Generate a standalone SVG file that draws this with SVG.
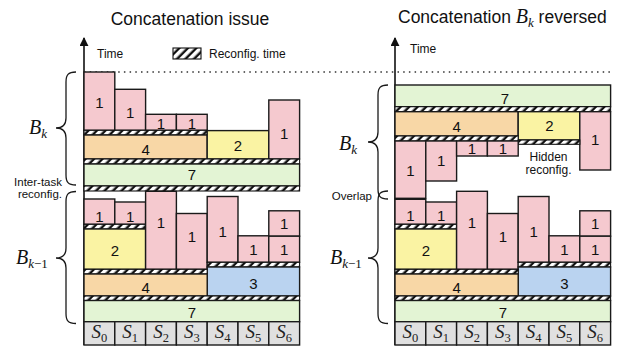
<svg xmlns="http://www.w3.org/2000/svg" width="626" height="348" viewBox="0 0 626 348">
  <defs>
    <!-- black bar with slanted white dashes: reconfiguration time -->
    <pattern id="hatch" patternUnits="userSpaceOnUse" width="6" height="6" patternTransform="rotate(45)">
      <rect width="6" height="6" fill="#111"/>
      <rect width="3.6" height="6" fill="#fff"/>
    </pattern>
    <marker id="arrow" viewBox="0 0 10 10" refX="9" refY="5" markerWidth="9" markerHeight="9" markerUnits="userSpaceOnUse" orient="auto">
      <path d="M0,0 L10,5 L0,10 z" fill="#111"/>
    </marker>
    <style>
      .t { stroke: #1a1a1a; stroke-width: 1.4; }
      .p { fill: #f5c9cf; }
      .o { fill: #f8d7a6; }
      .y { fill: #faf3a3; }
      .g { fill: #e3f4d4; }
      .b { fill: #bad3f0; }
      .s { fill: #e0e0e0; }
      .h { fill: url(#hatch); stroke: #111; stroke-width: 1.1; }
      .n { font-family: "Liberation Sans", Arial, sans-serif; font-size: 15px; fill: #111; text-anchor: middle; }
      .lab { font-family: "Liberation Sans", Arial, sans-serif; font-size: 12px; fill: #111; }
      .small { font-size: 11.5px; }
      .title { font-family: "Liberation Sans", Arial, sans-serif; font-size: 17.5px; fill: #111; }
      .math { font-family: "Liberation Serif", "Times New Roman", serif; fill: #111; }
      .it { font-style: italic; }
      .sl { font-family: "Liberation Serif", "Times New Roman", serif; font-size: 19px; fill: #222; text-anchor: middle; font-style: italic; }
      .brace { fill: none; stroke: #1a1a1a; stroke-width: 1.3; }
      .axis { stroke: #111; stroke-width: 1.6; fill: none; }
    </style>
  </defs>

  <rect width="626" height="348" fill="#fff"/>

  <!-- titles -->
  <text class="title" x="190" y="25" text-anchor="middle">Concatenation issue</text>
  <text class="title" x="398" y="23">Concatenation <tspan class="math it" font-size="20">B</tspan><tspan class="math it" font-size="13" dy="4">k</tspan><tspan dy="-4"> reversed</tspan></text>

  <!-- legend -->
  <g id="legend">
    <rect class="h" x="173" y="48" width="28" height="11"/>
    <text class="lab" x="209" y="57.5" font-size="13.5">Reconfig. time</text>
  </g>

  <!-- time axes and the reference level -->
  <g id="axes">
    <line class="axis" x1="84" y1="345" x2="84" y2="38" marker-end="url(#arrow)"/>
    <text class="lab" x="97" y="58" font-size="13.5">Time</text>
    <line class="axis" x1="395" y1="345" x2="395" y2="38" marker-end="url(#arrow)"/>
    <text class="lab" x="410" y="53" font-size="13.5">Time</text>
    <line x1="84" y1="72" x2="612" y2="72" stroke="#333" stroke-width="1.3" stroke-dasharray="1.5 4.2"/>
  </g>

  <!-- ================= left panel ================= -->
  <g id="left-bk">
    <g id="L-bk-t1a"><rect class="t p" x="84" y="72" width="30.8" height="58.3"/><text class="n" x="99.4" y="108.4">1</text></g>
    <g id="L-bk-t1b"><rect class="t p" x="114.8" y="89.3" width="30.8" height="41"/><text class="n" x="130.2" y="118.1">1</text></g>
    <g id="L-bk-t1c"><rect class="t p" x="145.6" y="114.3" width="30.8" height="16"/><text class="n" x="161" y="129.4">1</text></g>
    <g id="L-bk-t1d"><rect class="t p" x="176.4" y="114.3" width="30.8" height="16"/><text class="n" x="191.8" y="129.4">1</text></g>
    <rect class="h" x="84" y="130.3" width="123.2" height="4.7"/>
    <g id="L-bk-t4"><rect class="t o" x="84" y="135" width="123.2" height="24"/><text class="n" x="145.6" y="155.4">4</text></g>
    <g id="L-bk-t2"><rect class="t y" x="207.2" y="130.6" width="61.6" height="28.4"/><text class="n" x="238" y="151.1">2</text></g>
    <g id="L-bk-t1e"><rect class="t p" x="268.8" y="100" width="30.8" height="59"/><text class="n" x="284.2" y="139.4">1</text></g>
    <rect class="h" x="84" y="159" width="215.6" height="5"/>
    <g id="L-bk-t7"><rect class="t g" x="84" y="164" width="215.6" height="22"/><text class="n" x="191.8" y="180.4">7</text></g>
  </g>

  <!-- reconfiguration between the two batches -->
  <rect id="L-inter" class="h" x="84" y="186" width="215.6" height="5"/>

  <g id="left-bk1">
    <g id="L-p-t1a"><rect class="t p" x="84" y="199" width="30.8" height="25.3"/><text class="n" x="99.4" y="222.1">1</text></g>
    <g id="L-p-t1b"><rect class="t p" x="114.8" y="202" width="30.8" height="22.3"/><text class="n" x="130.2" y="222.1">1</text></g>
    <rect class="h" x="84" y="224.3" width="61.6" height="4.7"/>
    <g id="L-p-t2"><rect class="t y" x="84" y="229" width="61.6" height="40.3"/><text class="n" x="114.8" y="256.4">2</text></g>
    <g id="L-p-t1c"><rect class="t p" x="145.6" y="191.3" width="30.8" height="78"/><text class="n" x="161" y="228.4">1</text></g>
    <g id="L-p-t1d"><rect class="t p" x="176.4" y="213.5" width="30.8" height="55.8"/><text class="n" x="191.8" y="242.1">1</text></g>
    <g id="L-p-t1e"><rect class="t p" x="207.2" y="196.5" width="30.8" height="65.8"/><text class="n" x="222.6" y="237.1">1</text></g>
    <g id="L-p-t1f"><rect class="t p" x="238" y="235.8" width="30.8" height="26.5"/><text class="n" x="253.4" y="255.4">1</text></g>
    <g id="L-p-t1g"><rect class="t p" x="268.8" y="210.8" width="30.8" height="25.4"/><text class="n" x="284.2" y="229.4">1</text></g>
    <g id="L-p-t1h"><rect class="t p" x="268.8" y="236.2" width="30.8" height="26.1"/><text class="n" x="284.2" y="255.4">1</text></g>
    <rect class="h" x="207.2" y="262.3" width="92.4" height="4.7"/>
    <g id="L-p-t3"><rect class="t b" x="207.2" y="267" width="92.4" height="29"/><text class="n" x="253.4" y="288.7">3</text></g>
    <rect class="h" x="84" y="269.3" width="123.2" height="4.7"/>
    <g id="L-p-t4"><rect class="t o" x="84" y="274" width="123.2" height="22"/><text class="n" x="145.6" y="292.7">4</text></g>
    <rect class="h" x="84" y="296" width="215.6" height="4.5"/>
    <g id="L-p-t7"><rect class="t g" x="84" y="300.5" width="215.6" height="21.2"/><text class="n" x="191.8" y="318.1">7</text></g>
  </g>

  <g id="left-slots">
    <rect class="t s" x="84" y="321.7" width="30.8" height="23.3"/>
    <rect class="t s" x="114.8" y="321.7" width="30.8" height="23.3"/>
    <rect class="t s" x="145.6" y="321.7" width="30.8" height="23.3"/>
    <rect class="t s" x="176.4" y="321.7" width="30.8" height="23.3"/>
    <rect class="t s" x="207.2" y="321.7" width="30.8" height="23.3"/>
    <rect class="t s" x="238" y="321.7" width="30.8" height="23.3"/>
    <rect class="t s" x="268.8" y="321.7" width="30.8" height="23.3"/>
    <text class="sl" x="99.4" y="338">S<tspan font-size="12.5" font-style="normal" dy="3.5">0</tspan></text>
    <text class="sl" x="130.2" y="338">S<tspan font-size="12.5" font-style="normal" dy="3.5">1</tspan></text>
    <text class="sl" x="161" y="338">S<tspan font-size="12.5" font-style="normal" dy="3.5">2</tspan></text>
    <text class="sl" x="191.8" y="338">S<tspan font-size="12.5" font-style="normal" dy="3.5">3</tspan></text>
    <text class="sl" x="222.6" y="338">S<tspan font-size="12.5" font-style="normal" dy="3.5">4</tspan></text>
    <text class="sl" x="253.4" y="338">S<tspan font-size="12.5" font-style="normal" dy="3.5">5</tspan></text>
    <text class="sl" x="284.2" y="338">S<tspan font-size="12.5" font-style="normal" dy="3.5">6</tspan></text>
  </g>

  <g id="left-braces">
    <path class="brace" d="M76,72 C68,72 66,75 66,82 L66,118 C66,125 62,128 56,128 C62,128 66,131 66,138 L66,175 C66,182 68,185 76,185"/>
    <text class="math it" x="29" y="134" font-size="20">B<tspan font-size="13" dy="4">k</tspan></text>
    <text class="lab small" x="62" y="185.5" text-anchor="end">Inter-task</text>
    <text class="lab small" x="62" y="198" text-anchor="end">reconfig.</text>
    <path class="brace" d="M76,191.5 C68,191.5 66,194.5 66,201.5 L66,248 C66,255 62,258 56,258 C62,258 66,261 66,268 L66,313.5 C66,320.5 68,323.5 76,323.5"/>
    <text class="math it" x="16" y="264" font-size="20">B<tspan font-size="13" dy="4">k</tspan><tspan font-size="13" font-style="normal">−1</tspan></text>
  </g>

  <!-- ================= right panel ================= -->
  <g id="right-bk">
    <g id="R-bk-t7"><rect class="t g" x="395" y="85" width="215.6" height="21.7"/><text class="n" x="505" y="103.7">7</text></g>
    <rect class="h" x="395" y="106.7" width="215.6" height="5"/>
    <g id="R-bk-t4"><rect class="t o" x="395" y="111.7" width="123.2" height="24.3"/><text class="n" x="456.6" y="132.1">4</text></g>
    <g id="R-bk-t2"><rect class="t y" x="518.2" y="111.7" width="61.6" height="28.3"/><text class="n" x="549.5" y="131.4">2</text></g>
    <g id="R-bk-t1e"><rect class="t p" x="579.8" y="111.7" width="30.8" height="58.3"/><text class="n" x="595.2" y="144.7">1</text></g>
    <rect class="h" x="395" y="136" width="123.2" height="5"/>
    <rect class="h" x="518.2" y="140" width="61.6" height="4.3"/>
    <text class="lab" x="548.5" y="161" text-anchor="middle">Hidden</text>
    <text class="lab" x="548.5" y="173.5" text-anchor="middle">reconfig.</text>
    <g id="R-bk-t1a"><rect class="t p" x="395" y="141" width="30.8" height="57.3"/><text class="n" x="410.4" y="176.4">1</text></g>
    <g id="R-bk-t1b"><rect class="t p" x="425.8" y="141" width="30.8" height="40"/><text class="n" x="441.2" y="166.4">1</text></g>
    <g id="R-bk-t1c"><rect class="t p" x="456.6" y="141" width="30.8" height="15"/><text class="n" x="472" y="154.4">1</text></g>
    <g id="R-bk-t1d"><rect class="t p" x="487.4" y="141" width="30.8" height="15"/><text class="n" x="502.8" y="154.4">1</text></g>
  </g>

  <g id="right-bk1">
    <g id="R-p-t1a"><rect class="t p" x="395" y="199.3" width="30.8" height="25"/><text class="n" x="410.4" y="221.4">1</text></g>
    <g id="R-p-t1b"><rect class="t p" x="425.8" y="202" width="30.8" height="22.3"/><text class="n" x="441.2" y="221.4">1</text></g>
    <rect class="h" x="395" y="224.3" width="61.6" height="4.7"/>
    <g id="R-p-t2"><rect class="t y" x="395" y="229" width="61.6" height="40.3"/><text class="n" x="425.8" y="256.4">2</text></g>
    <g id="R-p-t1c"><rect class="t p" x="456.6" y="191.3" width="30.8" height="78"/><text class="n" x="472" y="228.4">1</text></g>
    <g id="R-p-t1d"><rect class="t p" x="487.4" y="213.5" width="30.8" height="55.8"/><text class="n" x="502.8" y="242.1">1</text></g>
    <g id="R-p-t1e"><rect class="t p" x="518.2" y="196.5" width="30.8" height="65.8"/><text class="n" x="533.6" y="237.1">1</text></g>
    <g id="R-p-t1f"><rect class="t p" x="549" y="235.8" width="30.8" height="26.5"/><text class="n" x="564.4" y="255.4">1</text></g>
    <g id="R-p-t1g"><rect class="t p" x="579.8" y="210.8" width="30.8" height="25.4"/><text class="n" x="595.2" y="229.4">1</text></g>
    <g id="R-p-t1h"><rect class="t p" x="579.8" y="236.2" width="30.8" height="26.1"/><text class="n" x="595.2" y="255.4">1</text></g>
    <rect class="h" x="518.2" y="262.3" width="92.4" height="4.7"/>
    <g id="R-p-t3"><rect class="t b" x="518.2" y="267" width="92.4" height="29"/><text class="n" x="564.4" y="288.7">3</text></g>
    <rect class="h" x="395" y="269.3" width="123.2" height="4.7"/>
    <g id="R-p-t4"><rect class="t o" x="395" y="274" width="123.2" height="22"/><text class="n" x="456.6" y="292.7">4</text></g>
    <rect class="h" x="395" y="296" width="215.6" height="4.5"/>
    <g id="R-p-t7"><rect class="t g" x="395" y="300.5" width="215.6" height="21.2"/><text class="n" x="502.8" y="318.1">7</text></g>
  </g>

  <g id="right-slots">
    <rect class="t s" x="395" y="321.7" width="30.8" height="23.3"/>
    <rect class="t s" x="425.8" y="321.7" width="30.8" height="23.3"/>
    <rect class="t s" x="456.6" y="321.7" width="30.8" height="23.3"/>
    <rect class="t s" x="487.4" y="321.7" width="30.8" height="23.3"/>
    <rect class="t s" x="518.2" y="321.7" width="30.8" height="23.3"/>
    <rect class="t s" x="549" y="321.7" width="30.8" height="23.3"/>
    <rect class="t s" x="579.8" y="321.7" width="30.8" height="23.3"/>
    <text class="sl" x="410.4" y="338">S<tspan font-size="12.5" font-style="normal" dy="3.5">0</tspan></text>
    <text class="sl" x="441.2" y="338">S<tspan font-size="12.5" font-style="normal" dy="3.5">1</tspan></text>
    <text class="sl" x="472" y="338">S<tspan font-size="12.5" font-style="normal" dy="3.5">2</tspan></text>
    <text class="sl" x="502.8" y="338">S<tspan font-size="12.5" font-style="normal" dy="3.5">3</tspan></text>
    <text class="sl" x="533.6" y="338">S<tspan font-size="12.5" font-style="normal" dy="3.5">4</tspan></text>
    <text class="sl" x="564.4" y="338">S<tspan font-size="12.5" font-style="normal" dy="3.5">5</tspan></text>
    <text class="sl" x="595.2" y="338">S<tspan font-size="12.5" font-style="normal" dy="3.5">6</tspan></text>
  </g>

  <g id="right-braces">
    <!-- the two braces cross where the batches overlap -->
    <path class="brace" d="M388,85 C380,85 378,88 378,95 L378,132 C378,139 374,142 368,142 C374,142 378,145 378,152 L378,189 C378,196 380,199 388,199"/>
    <text class="math it" x="339" y="150" font-size="20">B<tspan font-size="13" dy="4">k</tspan></text>
    <path class="brace" d="M388,191 C380,191 378,194 378,201 L378,248 C378,255 374,258 368,258 C374,258 378,261 378,268 L378,313.5 C378,320.5 380,323.5 388,323.5"/>
    <text class="math it" x="330" y="264" font-size="20">B<tspan font-size="13" dy="4">k</tspan><tspan font-size="13" font-style="normal">−1</tspan></text>
    <text class="lab small" x="372" y="200" text-anchor="end">Overlap</text>
  </g>
</svg>
